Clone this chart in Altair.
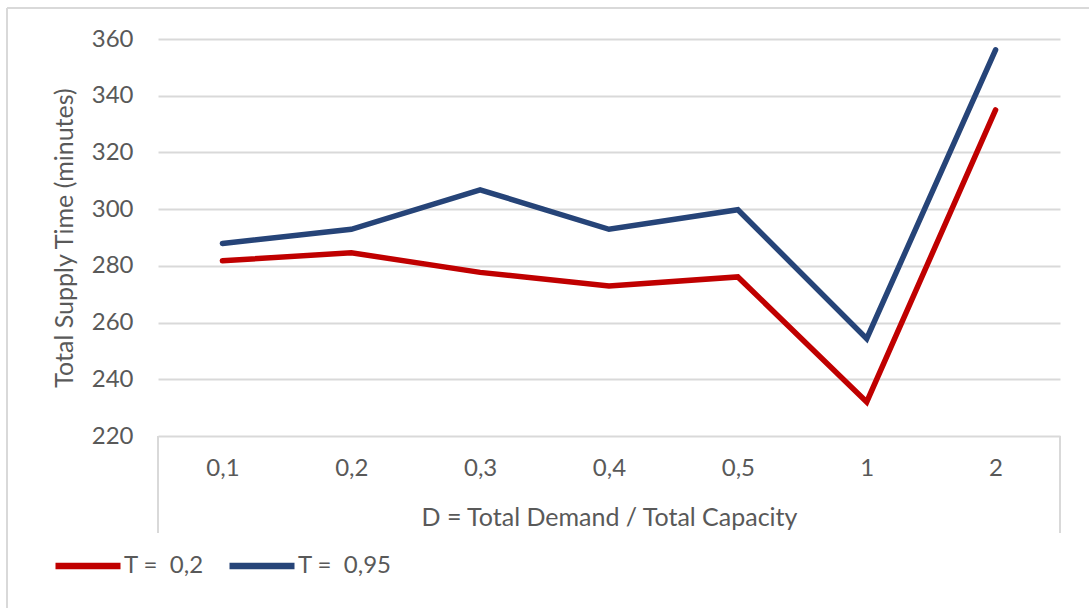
import altair as alt
import pandas as pd

categories = ["0,1", "0,2", "0,3", "0,4", "0,5", "1", "2"]
series_low = [281.8, 284.6, 277.7, 272.9, 276.1, 232.0, 335.0]   # T = 0,2
series_high = [287.9, 292.9, 306.8, 292.9, 299.8, 254.3, 356.2]  # T = 0,95
series_names = ["T =\u00a0 0,2", "T =\u00a0 0,95"]
series_colors = ["#C00000", "#264478"]
y_ticks = [220, 240, 260, 280, 300, 320, 340, 360]

rows = []
for name, vals in zip(series_names, [series_low, series_high]):
    for c, v in zip(categories, vals):
        rows.append({"D": c, "value": v, "series": name})
df = pd.DataFrame(rows)

W, H = 902, 397
FONT = "Lato"
GREY = "#595959"
LINEGREY = "#D9D9D9"
FS = 24
TFS = 25

lines = alt.Chart(df).mark_line(strokeWidth=5.5, strokeCap="round", strokeJoin="miter").encode(
    x=alt.X("D:N", sort=categories,
            scale=alt.Scale(type="point", padding=0.5),
            axis=alt.Axis(title="D = Total Demand / Total Capacity", labelAngle=0,
                          domain=False, ticks=False, grid=False,
                          labelFont=FONT, labelFontSize=FS, labelColor=GREY,
                          labelBaseline="middle", labelPadding=32,
                          titleFont=FONT, titleFontSize=TFS, titleColor=GREY,
                          titleFontWeight="normal", titleBaseline="middle", titleY=81)),
    y=alt.Y("value:Q", scale=alt.Scale(domain=[220, 360], nice=False, zero=False),
            axis=alt.Axis(title="Total Supply Time (minutes)", values=y_ticks,
                          domain=False, ticks=False, grid=True, gridColor=LINEGREY,
                          gridWidth=1.8, labelFont=FONT, labelFontSize=FS,
                          labelColor=GREY, labelPadding=25,
                          titleFont=FONT, titleFontSize=TFS, titleColor=GREY,
                          titleFontWeight="normal", titleBaseline="middle", titleX=-94)),
    color=alt.Color("series:N", scale=alt.Scale(domain=series_names, range=series_colors),
                    legend=alt.Legend(title=None, orient="none", direction="horizontal",
                                      legendX=-106, legendY=491, symbolType="stroke",
                                      symbolSize=4225, symbolStrokeWidth=6.5,
                                      labelOffset=0, columnPadding=12, padding=0,
                                      labelFont=FONT, labelFontSize=FS, labelColor=GREY)),
)

one = pd.DataFrame({"k": [0]})
left_edge = alt.Chart(one).mark_rule(color=LINEGREY, strokeWidth=2).encode(
    x=alt.value(0), y=alt.value(H), y2=alt.value(H + 97))
right_edge = alt.Chart(one).mark_rule(color=LINEGREY, strokeWidth=2).encode(
    x=alt.value(W), y=alt.value(H), y2=alt.value(H + 97))
frame_top = alt.Chart(one).mark_rule(color=LINEGREY, strokeWidth=2).encode(
    x=alt.value(-151), x2=alt.value(931), y=alt.value(-31))
frame_left = alt.Chart(one).mark_rule(color=LINEGREY, strokeWidth=2).encode(
    x=alt.value(-151), y=alt.value(-31), y2=alt.value(569))

chart = alt.layer(frame_top, frame_left, left_edge, right_edge, lines).properties(
    width=W, height=H,
    autosize=alt.AutoSizeParams(type="none"),
    padding={"left": 158, "top": 39, "right": 29, "bottom": 172},
    background="white",
).configure_view(stroke=None)

chart.save("out.html", embed_options={"renderer": "svg", "actions": False})
